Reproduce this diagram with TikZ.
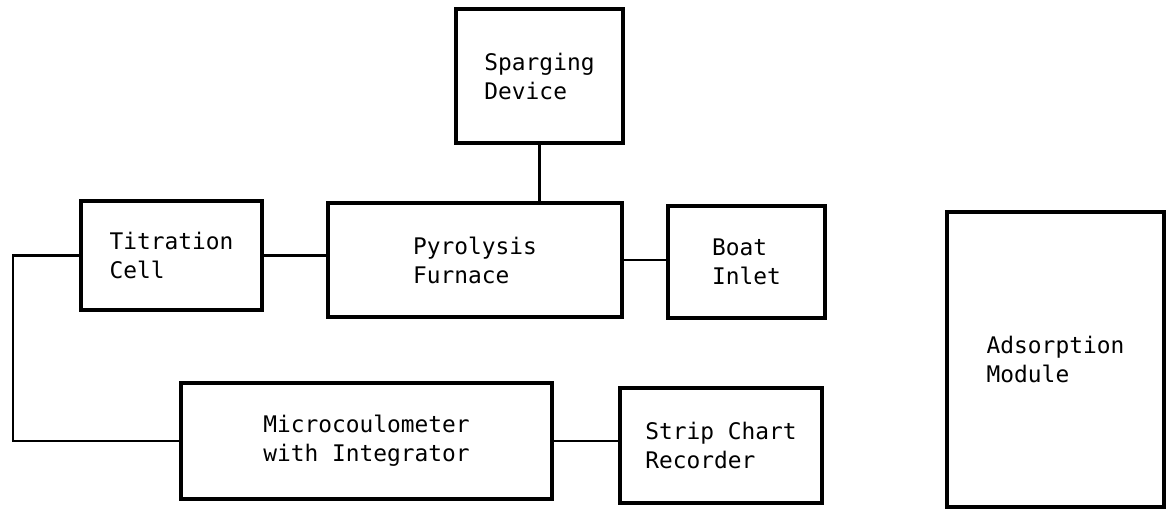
\documentclass[tikz,border=0pt]{standalone}
\usepackage{fontspec}
\setmonofont{DejaVu Sans Mono}
\usepackage{tikz}
\tikzset{block/.style={draw, line width=2.3pt, align=left, inner sep=0pt, font=\ttfamily\fontsize{13}{16.5}\selectfont}}
\tikzset{pipe/.style={line width=1.6pt}}

\begin{document}
\begin{tikzpicture}
    \useasboundingbox (0, 0) rectangle (23.34, 10.2);
    \node [block, minimum width=3.34cm, minimum height=2.68cm] (sparge) at (10.79, 8.68) {Sparging\\Device};
    \node [block, minimum width=3.62cm, minimum height=2.18cm] (cell) at (3.43, 5.09) {Titration\\Cell};
    \node [block, minimum width=5.88cm, minimum height=2.28cm] (furnace) at (9.5, 5.0) {Pyrolysis\\Furnace};
    \node [block, minimum width=3.14cm, minimum height=2.24cm] (boat) at (14.93, 4.96) {Boat\\Inlet};
    \node [block, minimum width=4.34cm, minimum height=5.9cm] (adsorb) at (21.11, 3.01) {Adsorption\\Module};
    \node [block, minimum width=7.42cm, minimum height=2.32cm] (meter) at (7.33, 1.38) {Microcoulometer\\with Integrator};
    \node [block, minimum width=4.04cm, minimum height=2.3cm] (chart) at (14.42, 1.29) {Strip Chart\\Recorder};
    \coordinate (bend) at (0.26, 1.38);
    \draw [pipe] (sparge.south) -- (sparge.south |- furnace.north);
    \draw [pipe] (cell.east) -- (cell.east -| furnace.west);
    \draw [pipe] (furnace.east) -- (furnace.east -| boat.west);
    \draw [pipe] (cell.west) -| (bend) -- (meter.west);
    \draw [pipe] (meter.east) -- (meter.east -| chart.west);
\end{tikzpicture}
\end{document}
